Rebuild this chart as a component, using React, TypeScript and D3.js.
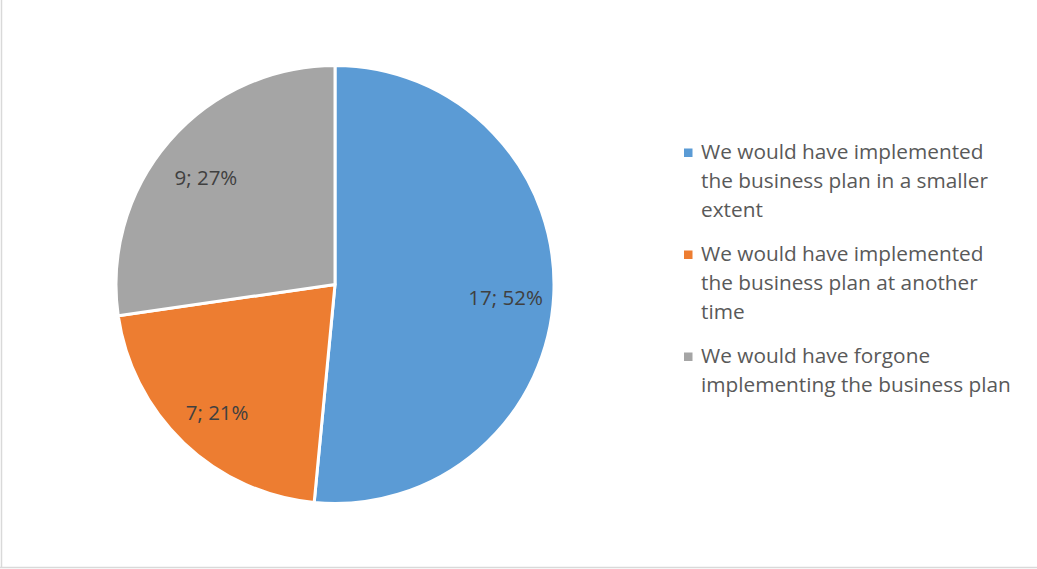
import React from "react";
import * as d3 from "d3";

const categories = [
  "We would have implemented the business plan in a smaller extent",
  "We would have implemented the business plan at another time",
  "We would have forgone implementing the business plan",
];
const legendLines = [
  ["We would have implemented", "the business plan in a smaller", "extent"],
  ["We would have implemented", "the business plan at another", "time"],
  ["We would have forgone", "implementing the business plan"],
];
const values = [17, 7, 9];
const percentLabels = ["52%", "21%", "27%"];
const colors = ["#5B9BD5", "#ED7D31", "#A5A5A5"];

const W = 1037;
const H = 569;

export default function App() {
  const cx = 335;
  const cy = 284.5;
  const r = 219;
  const pie = d3.pie<number>().sort(null).startAngle(0).endAngle(2 * Math.PI);
  const arcs = pie(values);
  const arc = d3.arc<d3.PieArcDatum<number>>().innerRadius(0).outerRadius(r);
  const labelArc = d3
    .arc<d3.PieArcDatum<number>>()
    .innerRadius(r * 0.78)
    .outerRadius(r * 0.78);
  const font = "'Open Sans', 'Segoe UI', sans-serif";
  const labelSize = 20.5;
  const legendSize = 20.8;
  const lineH = 29;
  const entryGap = 15;

  let y = 159;
  const legendItems = legendLines.map((lines, i) => {
    const start = y;
    y += lines.length * lineH + entryGap;
    return { lines, start, i };
  });

  return (
    <svg
      width={W}
      height={H}
      style={{ position: "absolute", left: 0, top: 0, background: "#fff" }}
    >
      <line x1={1.5} y1={0} x2={1.5} y2={568} stroke="#d9d9d9" strokeWidth={1.5} />
      <line x1={0} y1={567.5} x2={W} y2={567.5} stroke="#d9d9d9" strokeWidth={1.5} />
      <g transform={`translate(${cx},${cy})`}>
        {arcs.map((a, i) => (
          <path
            key={i}
            d={arc(a) || ""}
            fill={colors[i]}
            stroke="#fff"
            strokeWidth={3}
            strokeLinejoin="round"
          />
        ))}
        {arcs.map((a, i) => {
          const [lx, ly] = labelArc.centroid(a);
          return (
            <text
              key={i}
              x={lx}
              y={ly + 4}
              textAnchor="middle"
              dominantBaseline="central"
              fontFamily={font}
              fontSize={labelSize}
              fill="#404040"
            >
              {`${values[i]}; ${percentLabels[i]}`}
            </text>
          );
        })}
      </g>
      <g>
        {legendItems.map(({ lines, start, i }) => (
          <g key={i}>
            <title>{categories[i]}</title>
            <rect x={684} y={start - 10.5} width={8.5} height={8.5} fill={colors[i]} />
            {lines.map((ln, j) => (
              <text
                key={j}
                x={701}
                y={start + j * lineH}
                fontFamily={font}
                fontSize={legendSize}
                fill="#595959"
              >
                {ln}
              </text>
            ))}
          </g>
        ))}
      </g>
    </svg>
  );
}
